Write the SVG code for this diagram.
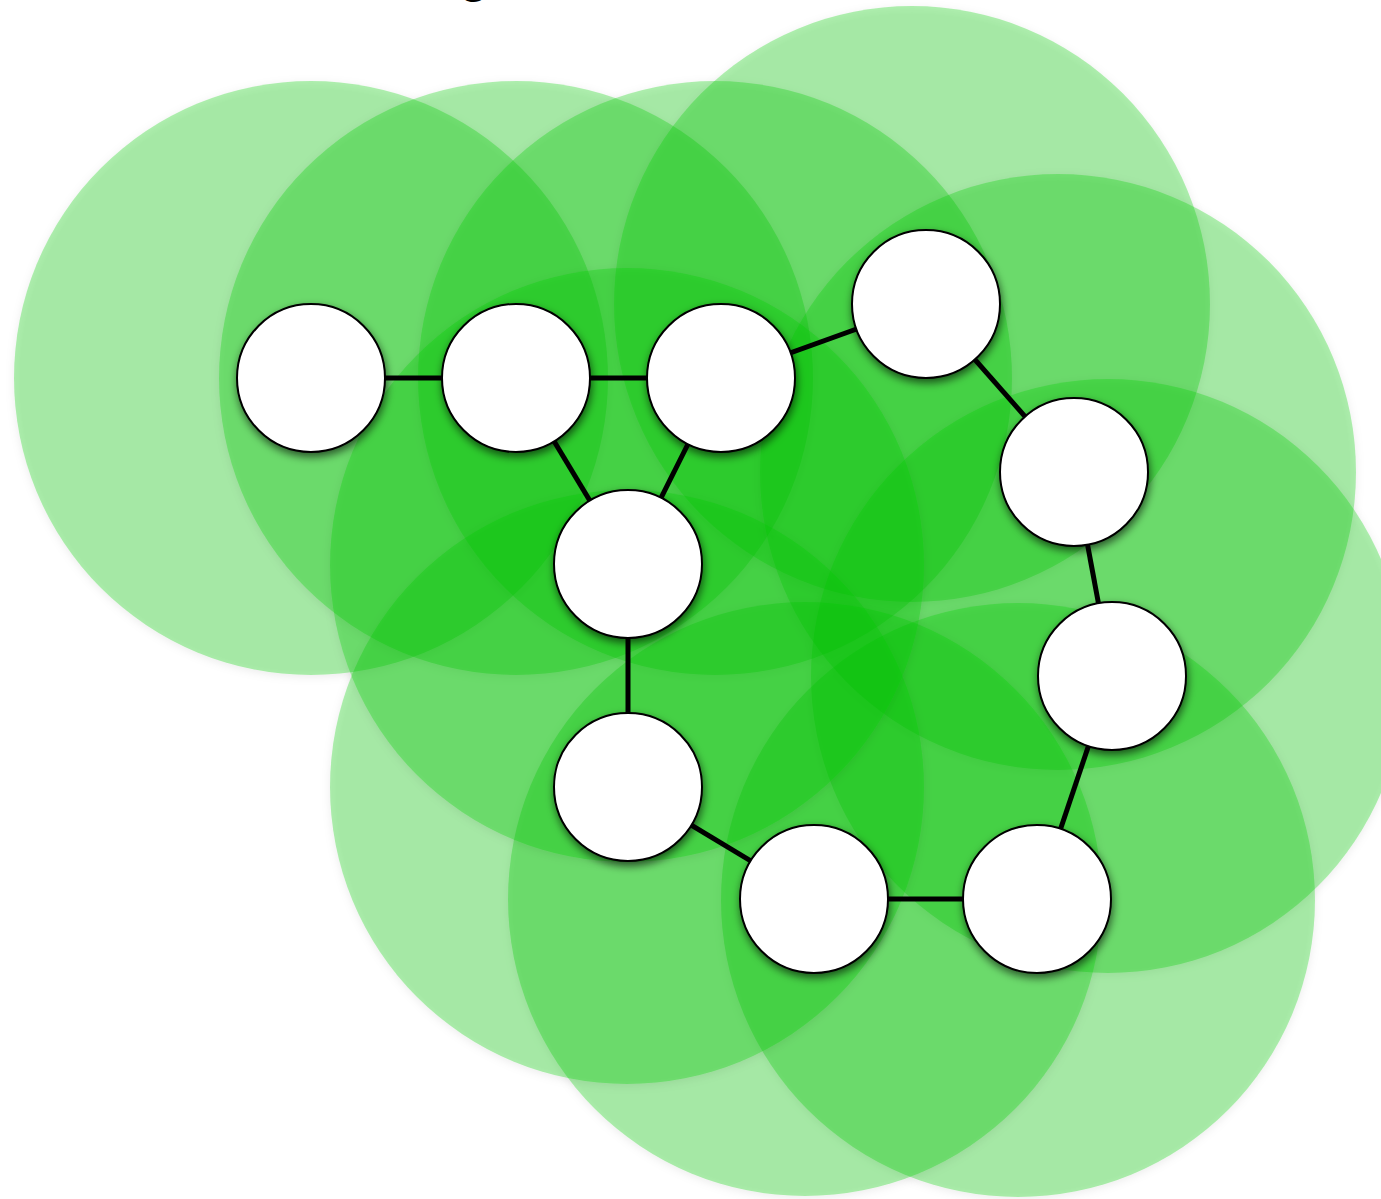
<svg xmlns="http://www.w3.org/2000/svg" width="1381" height="1199" viewBox="0 0 1381 1199">
  <defs>
    <filter id="softShadow" x="-10%" y="-10%" width="120%" height="120%">
      <feDropShadow dx="0" dy="2" stdDeviation="4" flood-color="#000" flood-opacity="0.25"/>
    </filter>
    <filter id="nodeShadow" x="-20%" y="-20%" width="140%" height="140%">
      <feDropShadow dx="1" dy="4" stdDeviation="4" flood-color="#000" flood-opacity="0.6"/>
    </filter>
  </defs>
  <style>
    .range { fill: #06cc06; fill-opacity: 0.3; filter: url(#softShadow); }
    .node circle { fill: #ffffff; stroke: #000000; stroke-width: 2; filter: url(#nodeShadow); }
    .edge { stroke: #000000; stroke-width: 5; fill: none; }
    .title { font-family: "Liberation Sans", Arial, sans-serif; font-weight: bold; font-size: 48px; fill: #000; }
  </style>
  <rect x="0" y="0" width="1381" height="1199" fill="#ffffff"/>
  <text class="title" x="474" y="-8" text-anchor="middle">g</text>
  <g id="ranges">
    <circle class="range" cx="311" cy="378" r="297"/>
    <circle class="range" cx="516" cy="378" r="297"/>
    <circle class="range" cx="715" cy="378" r="297"/>
    <circle class="range" cx="912" cy="304" r="298"/>
    <circle class="range" cx="1058" cy="472" r="298"/>
    <circle class="range" cx="1108" cy="676" r="297"/>
    <circle class="range" cx="1018" cy="900" r="297"/>
    <circle class="range" cx="805" cy="899" r="297"/>
    <circle class="range" cx="627" cy="787" r="297"/>
    <circle class="range" cx="627" cy="565" r="297"/>
  </g>
  <g id="connectors">
    <line class="edge" x1="311" y1="378" x2="516" y2="378"/>
    <line class="edge" x1="516" y1="378" x2="721" y2="378"/>
    <line class="edge" x1="721" y1="378" x2="926" y2="304"/>
    <line class="edge" x1="926" y1="304" x2="1074" y2="472"/>
    <line class="edge" x1="1074" y1="472" x2="1112" y2="676"/>
    <line class="edge" x1="1112" y1="676" x2="1037" y2="899"/>
    <line class="edge" x1="1037" y1="899" x2="814" y2="899"/>
    <line class="edge" x1="814" y1="899" x2="628" y2="787"/>
    <line class="edge" x1="628" y1="787" x2="628" y2="564"/>
    <line class="edge" x1="628" y1="564" x2="516" y2="378"/>
    <line class="edge" x1="628" y1="564" x2="721" y2="378"/>
  </g>
  <g id="node-a" class="node"><circle cx="311" cy="378" r="74"/></g>
  <g id="node-b" class="node"><circle cx="516" cy="378" r="74"/></g>
  <g id="node-c" class="node"><circle cx="721" cy="378" r="74"/></g>
  <g id="node-d" class="node"><circle cx="926" cy="304" r="74"/></g>
  <g id="node-e" class="node"><circle cx="1074" cy="472" r="74"/></g>
  <g id="node-f" class="node"><circle cx="1112" cy="676" r="74"/></g>
  <g id="node-g" class="node"><circle cx="1037" cy="899" r="74"/></g>
  <g id="node-h" class="node"><circle cx="814" cy="899" r="74"/></g>
  <g id="node-i" class="node"><circle cx="628" cy="787" r="74"/></g>
  <g id="node-j" class="node"><circle cx="628" cy="564" r="74"/></g>
</svg>
